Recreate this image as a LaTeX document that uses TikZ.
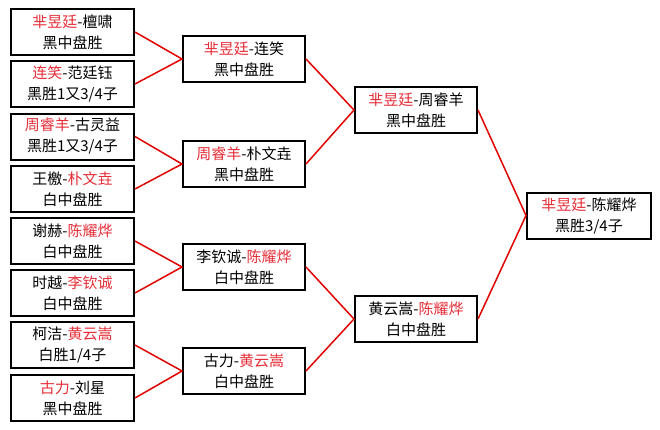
\documentclass[tikz,border=0pt]{standalone}
\usepackage{fontspec}
\setmainfont{Noto Sans CJK SC}
\definecolor{wintext}{RGB}{230,45,55}
\definecolor{linkred}{RGB}{225,0,0}
\newcommand{\win}[1]{\textcolor{wintext}{#1}}
\begin{document}
\begin{tikzpicture}[x=1pt,y=-1pt,
  box/.style={draw=black,line width=2pt,fill=white,minimum height=46pt,inner sep=0pt,
    align=center,font=\fontsize{15}{21}\selectfont},
  box1/.style={box,minimum width=123pt},
  box2/.style={box,minimum width=122pt},
  conn/.style={draw=linkred,line width=1.5pt}]
\useasboundingbox[fill=white] (0,0) rectangle (660,429);
% column 1
\node[box1] (a1) at (72.5,32)  {\win{芈昱廷}-檀啸\\黑中盘胜};
\node[box1] (a2) at (72.5,84)  {\win{连笑}-范廷钰\\黑胜1又3/4子};
\node[box1] (a3) at (72.5,136.5) {\win{周睿羊}-古灵益\\黑胜1又3/4子};
\node[box1] (a4) at (72.5,189) {王檄-\win{朴文垚}\\白中盘胜};
\node[box1] (a5) at (72.5,241) {谢赫-\win{陈耀烨}\\白中盘胜};
\node[box1] (a6) at (72.5,293) {时越-\win{李钦诚}\\白中盘胜};
\node[box1] (a7) at (72.5,345) {柯洁-\win{黄云嵩}\\白胜1/4子};
\node[box1] (a8) at (72.5,398) {\win{古力}-刘星\\黑中盘胜};
% column 2
\node[box2] (b1) at (244,59)  {\win{芈昱廷}-连笑\\黑中盘胜};
\node[box2] (b2) at (244,164) {\win{周睿羊}-朴文垚\\黑中盘胜};
\node[box2] (b3) at (244,267) {李钦诚-\win{陈耀烨}\\白中盘胜};
\node[box2] (b4) at (244,371) {古力-\win{黄云嵩}\\白中盘胜};
% column 3
\node[box2] (c1) at (416,110) {\win{芈昱廷}-周睿羊\\黑中盘胜};
\node[box2] (c2) at (416,319) {黄云嵩-\win{陈耀烨}\\白中盘胜};
% final
\node[box,minimum width=124pt] (d1) at (589,215.5) {\win{芈昱廷}-陈耀烨\\黑胜3/4子};
% connectors
\draw[conn] (a1.east) -- (b1.west) -- (a2.east);
\draw[conn] (a3.east) -- (b2.west) -- (a4.east);
\draw[conn] (a5.east) -- (b3.west) -- (a6.east);
\draw[conn] (a7.east) -- (b4.west) -- (a8.east);
\draw[conn] (b1.east) -- (c1.west) -- (b2.east);
\draw[conn] (b3.east) -- (c2.west) -- (b4.east);
\draw[conn] (c1.east) -- (d1.west) -- (c2.east);
\end{tikzpicture}
\end{document}
